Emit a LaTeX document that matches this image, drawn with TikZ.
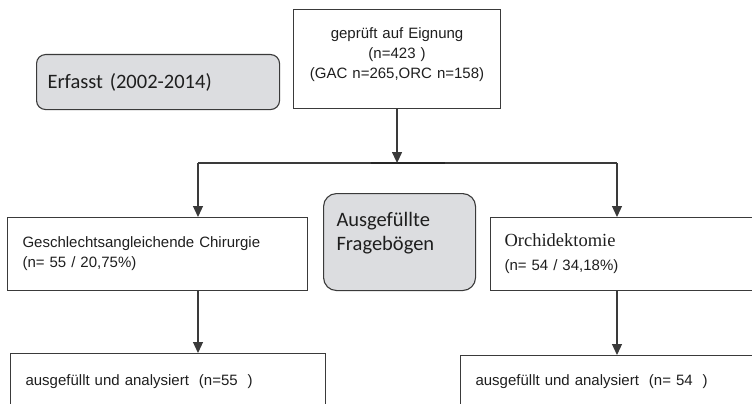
\documentclass[tikz,border=0pt]{standalone}
\usepackage{fontspec}
\setmainfont{Liberation Sans}
\newfontfamily\carl{Carlito}
\newfontfamily\tms{Liberation Serif}
\usetikzlibrary{arrows.meta,positioning}
\definecolor{gc}{RGB}{220,221,224}
\definecolor{ln}{RGB}{58,58,58}
\definecolor{tx}{RGB}{30,30,30}
\tikzset{b/.style={draw=ln,line width=1.1pt,text=tx,inner xsep=0pt,inner ysep=0pt,align=left},
 g/.style={b,fill=gc,font=\carl\fontsize{20.5}{24}\selectfont},
 wire/.style={draw=ln,line width=1.2pt},arr/.style={wire,-{Triangle[length=11pt,width=10pt]}},
 every node/.style={font=\fontsize{15}{20}\selectfont}}

\begin{document}
\begin{tikzpicture}[x=1pt,y=-1pt]
\useasboundingbox (0,0) rectangle (752,404);
\clip (0,0) rectangle (752,404);
\node[b,align=center,text width=207pt,minimum height=99pt,text depth=52pt,anchor=north west] (pr) at (293,9) {geprüft auf Eignung\\(n=423 )\\(GAC n=265,ORC n=158)};
\node[g,rounded corners=9pt,text width=221pt,inner xsep=11pt,minimum height=55pt,anchor=north west] (erf) at (36,54) {Erfasst (2002-2014)};
\node[b,text width=270pt,inner xsep=15pt,minimum height=73pt,anchor=north west] (gac) at (7,217) {Geschlechtsangleichende Chirurgie\\(n= 55 / 20,75\%)};
\node[b,text width=270pt,inner xsep=14pt,minimum height=73pt,anchor=north west] (orc) at (490,217) {{\tms\fontsize{18.5}{22}\selectfont Orchidektomie}\\[4pt](n= 54 / 34,18\%)};
\node[g,rounded corners=13pt,text width=126pt,inner xsep=13pt,minimum height=97pt,text depth=45pt,anchor=north west] (fb) at (323,193) {Ausgefüllte\\Fragebögen};
\node[b,text width=285pt,inner xsep=15pt,minimum height=56pt,anchor=north west] (agac) at (10,353) {ausgefüllt und analysiert\ \ (n=55\ \ )};
\node[b,text width=280pt,inner xsep=15pt,minimum height=52pt,anchor=north west] (aorc) at (460,355) {ausgefüllt und analysiert\ \ (n= 54\ \ )};
% Verzweigung
\coordinate (jl) at (198,163);
\coordinate (jr) at (617,163);
\draw[wire] (jl) -- (jr);
\draw[line width=1.7pt,black!85] (pr.south|-jl) ++(-26,0) -- ++(74,0);
\draw[arr] (pr.south) -- (pr.south|-jl);
\draw[arr] (jl) -- (jl|-gac.north);
\draw[arr] (jr) -- (jr|-orc.north);
\draw[arr] (jl|-gac.south) -- (jl|-agac.north);
\draw[arr] (jr|-orc.south) -- (jr|-aorc.north);
\end{tikzpicture}
\end{document}
